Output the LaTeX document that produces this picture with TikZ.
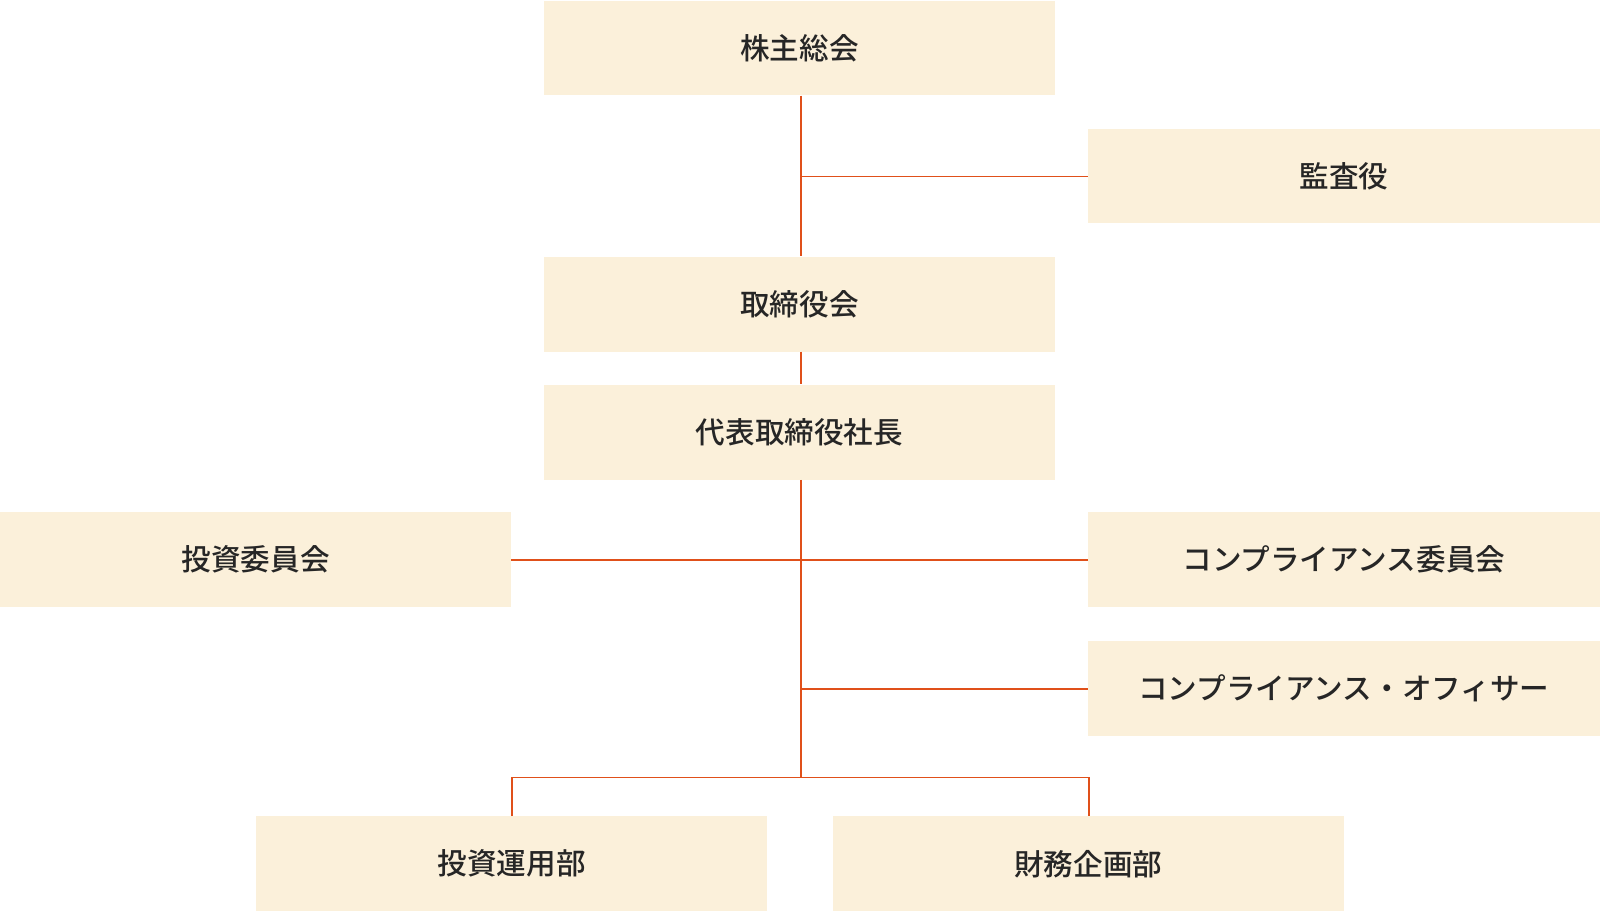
\documentclass[tikz,border=0pt]{standalone}
\usepackage{fontspec}
\newfontfamily\cjk{Noto Sans CJK JP}[BoldFont={Noto Sans CJK JP Medium}]
\definecolor{boxfill}{HTML}{FBF0DA}
\definecolor{lineorange}{HTML}{E0501A}
\begin{document}
\begin{tikzpicture}[x=1pt,y=-1pt,
  box/.style={fill=boxfill,draw=none,minimum width=501pt,minimum height=93pt,inner sep=0pt,font=\cjk\bfseries\fontsize{29}{32}\selectfont,text=black!85},
  conn/.style={draw=lineorange,line width=1.6pt}]
\useasboundingbox (0,0) rectangle (1568,894);
\node[box] (a) at (783.5,47) {株主総会};
\node[box] (b) at (1317,172.5) {監査役};
\node[box] (c) at (783.5,298) {取締役会};
\node[box] (d) at (783.5,423.5) {代表取締役社長};
\node[box] (e) at (250.5,548.5) {投資委員会};
\node[box] (f) at (1317,548.5) {コンプライアンス委員会};
\node[box] (g) at (1317,674.5) {コンプライアンス・オフィサー};
\node[box] (h) at (501.5,846.5) {投資運用部};
\node[box] (i) at (1066.5,846.5) {財務企画部};
\coordinate (j1) at (785,173);
\coordinate (j2) at (785,549);
\coordinate (j3) at (785,675);
\coordinate (j4) at (785,762);
\draw[conn] (a.south -| j1) -- (c.north -| j1);
\draw[conn] (j1) -- (b.west |- j1);
\draw[conn] (c.south -| j1) -- (d.north -| j1);
\draw[conn] (d.south -| j1) -- (j4);
\draw[conn] (e.east |- j2) -- (f.west |- j2);
\draw[conn] (j3) -- (g.west |- j3);
\draw[conn] (h.north -| 502,0) |- (j4) -| (i.north -| 1067,0);
\end{tikzpicture}
\end{document}
